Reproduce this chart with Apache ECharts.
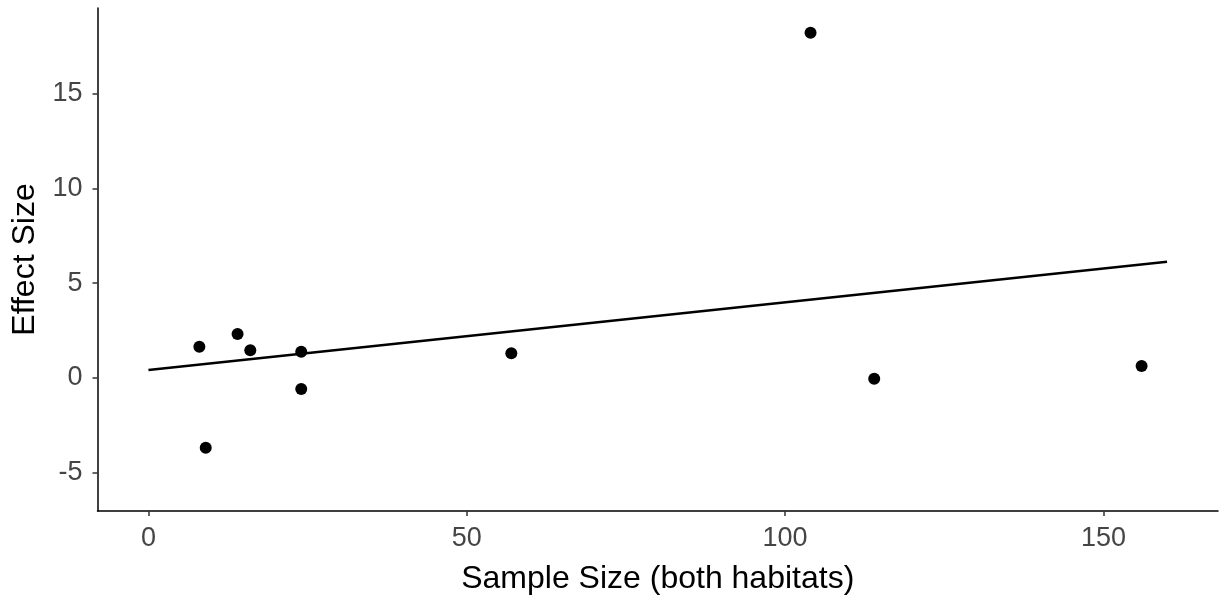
<!DOCTYPE html>
<html>
<head>
<meta charset="utf-8">
<title>Effect Size vs Sample Size</title>
<script src="https://cdn.jsdelivr.net/npm/echarts@6.0.0/dist/echarts.min.js"></script>
<style>
  html, body { margin: 0; padding: 0; background: #ffffff; }
  #chart { width: 1224px; height: 606px; }
</style>
</head>
<body>
<div id="chart"></div>
<script>
// Sample size (both habitats) for each study
const sampleSize = [8, 9, 14, 16, 24, 24, 57, 104, 114, 156];
// Effect size for each study
const effectSize = [1.64, -3.70, 2.31, 1.45, 1.37, -0.60, 1.29, 18.22, -0.05, 0.62];
// Fitted linear trend, endpoints
const trendX = [0, 160];
const trendY = [0.41, 6.13];
// Tick values
const xTicks = [0, 50, 100, 150];
const yTicks = [-5, 0, 5, 10, 15];

const points = sampleSize.map((x, i) => [x, effectSize[i]]);
const trend = trendX.map((x, i) => [x, trendY[i]]);

const font = '"Liberation Sans", Arial, sans-serif';

const chart = echarts.init(document.getElementById('chart'), null, { renderer: 'canvas' });
chart.setOption({
  backgroundColor: '#ffffff',
  animation: false,
  grid: { left: 97.5, right: 6, top: 8, bottom: 95 },
  xAxis: {
    type: 'value',
    min: -8,
    max: 168,
    name: 'Sample Size (both habitats)',
    nameLocation: 'middle',
    nameGap: 52,
    nameTextStyle: { fontFamily: font, fontSize: 32, color: '#000000' },
    axisLine: { show: true, onZero: false, lineStyle: { color: '#000000', width: 1.5 } },
    axisTick: { show: true, length: 5, customValues: xTicks, lineStyle: { color: '#333333', width: 1.5 } },
    axisLabel: { customValues: xTicks, margin: 14, fontFamily: font, fontSize: 27, color: '#454545' },
    splitLine: { show: false }
  },
  yAxis: {
    type: 'value',
    min: -7.04,
    max: 19.53,
    name: 'Effect Size',
    nameLocation: 'middle',
    nameGap: 56,
    nameTextStyle: { fontFamily: font, fontSize: 32, color: '#000000' },
    axisLine: { show: true, onZero: false, lineStyle: { color: '#000000', width: 1.5 } },
    axisTick: { show: true, length: 5, customValues: yTicks, lineStyle: { color: '#333333', width: 1.5 } },
    axisLabel: { customValues: yTicks, margin: 15, fontFamily: font, fontSize: 27, color: '#454545' },
    splitLine: { show: false }
  },
  series: [
    {
      type: 'line',
      data: trend,
      symbol: 'none',
      lineStyle: { color: '#000000', width: 2.6 },
      silent: true,
      z: 2
    },
    {
      type: 'scatter',
      data: points,
      symbol: 'circle',
      symbolSize: 12,
      itemStyle: { color: '#000000', opacity: 1 },
      z: 3
    }
  ]
});
</script>
</body>
</html>
